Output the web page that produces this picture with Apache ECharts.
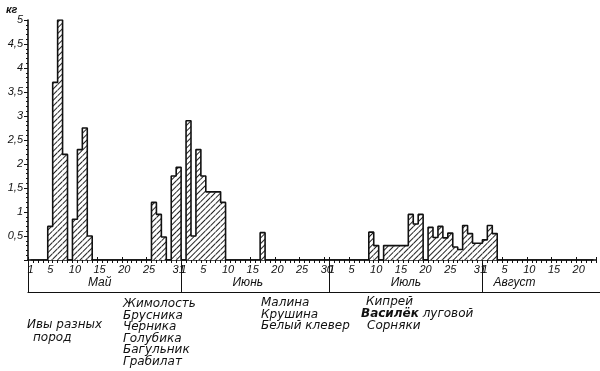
<!DOCTYPE html>
<html><head><meta charset="utf-8">
<script src="https://cdn.jsdelivr.net/npm/echarts@6/dist/echarts.min.js"></script>
<style>html,body{margin:0;padding:0;background:#fff}#c{width:600px;height:371px}</style>
</head><body><div id="c"></div>
<script>
// ---- data (kg per day) ----
const monthNames = ['Май', 'Июнь', 'Июль', 'Август'];
const may = [0, 0, 0, 0, 0.7, 3.7, 5.0, 2.2, 0, 0.85, 2.3, 2.75, 0.5,
  0, 0, 0, 0, 0, 0, 0, 0, 0, 0, 0, 0,
  1.2, 0.95, 0.48, 0, 1.75, 1.93];
const june = [0, 2.9, 0.5, 2.3, 1.75, 1.42, 1.42, 1.42, 1.2,
  0, 0, 0, 0, 0, 0, 0, 0.57,
  0, 0, 0, 0, 0, 0, 0, 0, 0, 0, 0, 0, 0];
const july = [0, 0, 0, 0, 0, 0, 0, 0, 0.58, 0.3, 0, 0.3, 0.3, 0.3, 0.3, 0.3,
  0.95, 0.75, 0.95, 0, 0.68, 0.47, 0.7, 0.46, 0.56, 0.27, 0.22, 0.72, 0.55, 0.35, 0.35];
const august = [0.42, 0.72, 0.55, 0, 0, 0, 0, 0, 0, 0, 0, 0, 0, 0, 0, 0, 0, 0, 0, 0, 0, 0, 0];
const dayTickLabels = [[1, 5, 10, 15, 20, 25, 31], [1, 5, 10, 15, 20, 25, 30], [1, 5, 10, 15, 20, 25, 31], [1, 5, 10, 15, 20]];
const monthLabelDay = [15, 14, 16, 7];   // day on which each month name is centred
const yTickLabels = ['', '0,5', '1', '1,5', '2', '2,5', '3', '3,5', '4', '4,5', '5'];

// ---- derived ----
const months = [may, june, july, august];
const categories = [];
const values = [];
const labelIdx = new Set();
const monthStartIdx = new Set();
const monthLabelIdx = {};
months.forEach((arr, m) => {
  monthStartIdx.add(categories.length);
  arr.forEach((v, d) => {
    const idx = categories.length;
    if (dayTickLabels[m].includes(d + 1)) labelIdx.add(idx);
    if (monthLabelDay[m] === d + 1) monthLabelIdx[idx] = monthNames[m];
    categories.push((d + 1) + '.' + (m + 5));
    values.push(v);
  });
});
// month band uses one extra (empty) slot so its closing boundary falls off the page
const bandCategories = categories.concat(['']);

const W = 600, L = 28, R = 4;
const plotW = W - L - R;
const bandW = plotW * bandCategories.length / categories.length;

const ink = '#111';
const numFont = { fontFamily: 'Liberation Sans', fontStyle: 'italic', fontSize: 11, color: ink };
const chart = echarts.init(document.getElementById('c'), null, { renderer: 'canvas' });
chart.setOption({
  animation: false,
  backgroundColor: '#fff',
  grid: [
    { left: L, right: R, top: 20, bottom: 111, outerBoundsMode: 'none' },
    { left: L, width: bandW, top: 260, height: 32, outerBoundsMode: 'none' }
  ],
  xAxis: [{
    type: 'category', data: categories, boundaryGap: true, gridIndex: 0,
    axisLine: { lineStyle: { color: ink, width: 1.6 } },
    axisTick: { show: true, interval: 0, length: 3, lineStyle: { color: ink } },
    axisLabel: Object.assign({ interval: (i) => labelIdx.has(i), margin: 4,
      formatter: (v) => v.split('.')[0] }, numFont),
    splitLine: { show: false }
  }, {
    type: 'category', data: bandCategories, boundaryGap: true, gridIndex: 1, position: 'bottom',
    axisLine: { lineStyle: { color: ink, width: 1.2 } },
    axisTick: { show: true, inside: true, length: 32, interval: (i) => monthStartIdx.has(i), lineStyle: { color: ink, width: 1 } },
    axisLabel: Object.assign({}, numFont, { inside: true, margin: 3, fontSize: 12,
      interval: (i) => (i in monthLabelIdx), formatter: (v, i) => monthLabelIdx[i] || '' }),
    splitLine: { show: false }
  }, {
    type: 'category', data: categories, boundaryGap: true, gridIndex: 0, position: 'bottom', offset: 0,
    axisLine: { show: false },
    axisTick: { show: true, inside: true, length: 3, interval: (i) => labelIdx.has(i), lineStyle: { color: ink } },
    axisLabel: { show: false },
    splitLine: { show: false }
  }],
  yAxis: [{
    type: 'value', min: 0, max: 5, interval: 0.5, gridIndex: 0,
    axisLine: { show: true, lineStyle: { color: ink, width: 1.6 } },
    axisTick: { show: true, length: 4, lineStyle: { color: ink } },
    minorTick: { show: true, splitNumber: 5, length: 2, lineStyle: { color: ink } },
    axisLabel: Object.assign({ margin: 5, formatter: (v) => yTickLabels[Math.round(v / 0.5)] }, numFont),
    splitLine: { show: false }
  }, {
    type: 'value', gridIndex: 1, show: false
  }],
  series: [{
    type: 'bar', data: values, barCategoryGap: '0%', silent: true, z: 2,
    itemStyle: {
      color: '#fff',
      decal: { symbol: 'rect', symbolSize: 1, dashArrayX: [1, 0], dashArrayY: [1, 3], rotation: -Math.PI / 4, color: '#222' }
    }
  }, {
    type: 'line', data: values, step: 'middle', symbol: 'none', silent: true, z: 3,
    lineStyle: { color: ink, width: 1.6 }
  }],
  graphic: [
    { type: 'text', x: 6, y: 4, style: { text: 'кг', font: 'italic bold 11px "Liberation Sans"', fill: ink } },
    { type: 'text', x: 27, y: 319, style: { text: 'Ивы разных', font: 'italic 12px "DejaVu Sans"', fill: ink } },
    { type: 'text', x: 33, y: 332, style: { text: 'пород', font: 'italic 12px "DejaVu Sans"', fill: ink } },
    { type: 'text', x: 123, y: 298, style: { text: 'Жимолость\nБрусника\nЧерника\nГолубика\nБагульник\nГрабилат', font: 'italic 12px "DejaVu Sans"', lineHeight: 11.6, fill: ink } },
    { type: 'text', x: 261, y: 297, style: { text: 'Малина\nКрушина\nБелый клевер', font: 'italic 12px "DejaVu Sans"', lineHeight: 11.7, fill: ink } },
    { type: 'text', x: 366, y: 296, style: { text: 'Кипрей', font: 'italic 12px "DejaVu Sans"', fill: ink } },
    { type: 'text', x: 361, y: 308, style: { text: '{b|Василёк} луговой', font: 'italic 12px "DejaVu Sans"', fill: ink, rich: { b: { fontWeight: 'bold', fontStyle: 'italic', fontSize: 12, fontFamily: 'DejaVu Sans' } } } },
    { type: 'text', x: 367, y: 320, style: { text: 'Сорняки', font: 'italic 12px "DejaVu Sans"', fill: ink } }
  ]
});
</script></body></html>
